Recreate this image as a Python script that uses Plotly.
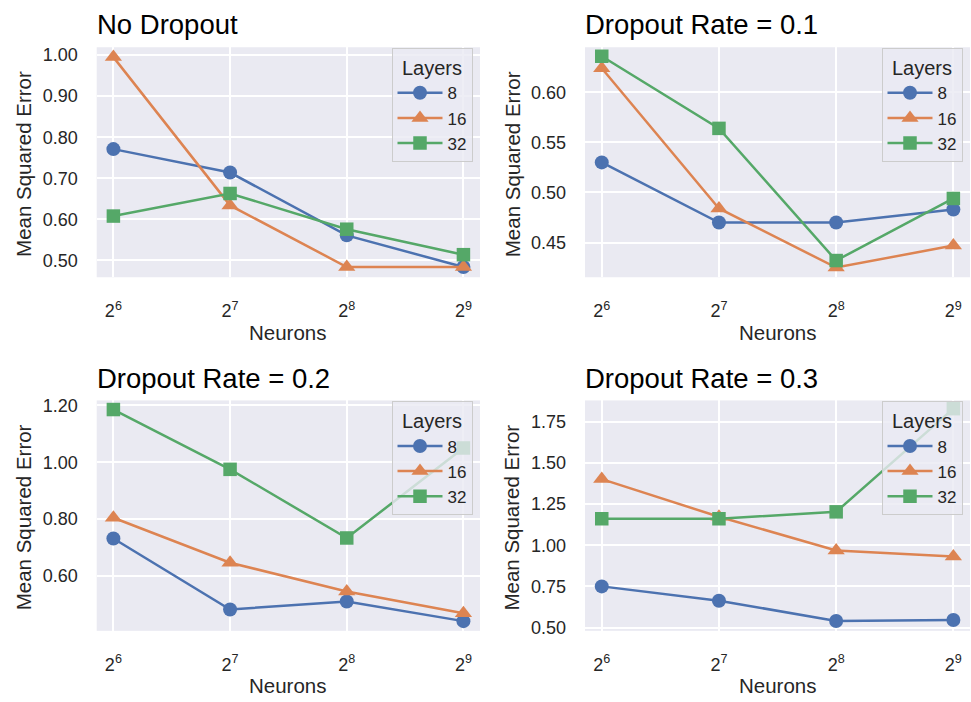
import numpy as np
import plotly.graph_objects as go

neurons = [64, 128, 256, 512]
tick_labels = ["2<sup>6</sup>", "2<sup>7</sup>", "2<sup>8</sup>", "2<sup>9</sup>"]
layers = ["8", "16", "32"]
panel_titles = ["No Dropout", "Dropout Rate = 0.1", "Dropout Rate = 0.2", "Dropout Rate = 0.3"]

no_dropout_8 = [0.771, 0.714, 0.561, 0.484]
no_dropout_16 = [0.995, 0.634, 0.484, 0.484]
no_dropout_32 = [0.608, 0.663, 0.576, 0.514]

drop01_8 = [0.530, 0.470, 0.470, 0.483]
drop01_16 = [0.624, 0.484, 0.425, 0.447]
drop01_32 = [0.636, 0.564, 0.432, 0.494]

drop02_8 = [0.732, 0.483, 0.511, 0.442]
drop02_16 = [0.805, 0.647, 0.546, 0.470]
drop02_32 = [1.185, 0.975, 0.734, 1.050]

drop03_8 = [0.750, 0.663, 0.540, 0.546]
drop03_16 = [1.402, 1.173, 0.968, 0.932]
drop03_32 = [1.161, 1.161, 1.203, 1.830]

panels = [
    [no_dropout_8, no_dropout_16, no_dropout_32],
    [drop01_8, drop01_16, drop01_32],
    [drop02_8, drop02_16, drop02_32],
    [drop03_8, drop03_16, drop03_32],
]

colors = ["#4C72B0", "#DD8452", "#55A868"]
symbols = ["circle", "triangle-up", "square"]
msizes = [14, 15, 13.5]

W, H = 971, 702
FONT = "Liberation Sans, Arial, Helvetica, sans-serif"
TXT = "#262626"

# pixel geometry of plot areas (left, right, top, bottom)
boxes = [
    (96.7, 480.0, 43.0, 277.0),
    (585.0, 970.0, 43.0, 277.0),
    (96.7, 480.0, 402.3, 636.7),
    (585.0, 970.0, 402.3, 636.7),
]
y_ranges = [(0.459, 1.019), (0.4153, 0.645), (0.408, 1.217), (0.48, 1.88)]
y_ticks = [
    [0.5, 0.6, 0.7, 0.8, 0.9, 1.0],
    [0.45, 0.50, 0.55, 0.60],
    [0.6, 0.8, 1.0, 1.2],
    [0.5, 0.75, 1.0, 1.25, 1.5, 1.75],
]
x_range = [np.log10(2) * 5.857, np.log10(2) * 9.142]

fig = go.Figure()
legend_names = ["legend", "legend2", "legend3", "legend4"]

for p, series in enumerate(panels):
    ax = "" if p == 0 else str(p + 1)
    for i, vals in enumerate(series):
        fig.add_trace(go.Scatter(
            x=neurons, y=vals, mode="lines+markers",
            name=layers[i],
            line=dict(color=colors[i], width=2.5),
            marker=dict(symbol=symbols[i], size=msizes[i], color=colors[i], line=dict(width=0)),
            xaxis="x" + ax, yaxis="y" + ax,
            legend=legend_names[p], legendgroup=f"p{p}l{i}",
            cliponaxis=False,
        ))

layout = dict(
    width=W, height=H,
    margin=dict(l=0, r=0, t=0, b=0),
    paper_bgcolor="white",
    plot_bgcolor="#EAEAF2",
    font=dict(family=FONT, color=TXT),
    showlegend=True,
)
annotations = []
for p in range(4):
    l, r, t, b = boxes[p]
    ax = "" if p == 0 else str(p + 1)
    layout["xaxis" + ax] = dict(
        type="log", range=x_range, domain=[l / W, r / W],
        anchor="y" + ax,
        tickvals=neurons, ticktext=tick_labels,
        showgrid=True, gridcolor="white", gridwidth=1.5,
        zeroline=False, showline=False, ticks="",
        tickfont=dict(size=18, color=TXT, family=FONT),
        ticklabelstandoff=21,
    )
    layout["yaxis" + ax] = dict(
        range=list(y_ranges[p]), domain=[1 - b / H, 1 - t / H],
        anchor="x" + ax,
        tickvals=y_ticks[p], tickformat=".2f",
        showgrid=True, gridcolor="white", gridwidth=1.5,
        zeroline=False, showline=False, ticks="",
        tickfont=dict(size=18, color=TXT, family=FONT),
        ticklabelstandoff=18,
    )
    # panel title
    annotations.append(dict(
        text=panel_titles[p], xref="paper", yref="paper",
        x=(l - 2) / W, y=1 - (t - 5) / H, xanchor="left", yanchor="bottom",
        showarrow=False, font=dict(size=27.5, color="black", family=FONT),
    ))
    # x axis title
    annotations.append(dict(
        text="Neurons", xref="paper", yref="paper",
        x=(l + r) / 2 / W, y=1 - (b + 56) / H, xanchor="center", yanchor="middle",
        showarrow=False, font=dict(size=20.5, color=TXT, family=FONT),
    ))
    # y axis title
    annotations.append(dict(
        text="Mean Squared Error", xref="paper", yref="paper",
        x=(l - 73) / W, y=1 - ((t + b) / 2 + 2) / H, xanchor="center", yanchor="middle",
        textangle=-90,
        showarrow=False, font=dict(size=20.5, color=TXT, family=FONT),
    ))
    lx = r - 7.5
    ly = t + 1
    layout[legend_names[p]] = dict(
        x=lx / W, y=1 - ly / H, xanchor="right", yanchor="top",
        xref="paper", yref="paper",
        bgcolor="rgba(234,234,242,0.8)", bordercolor="#CCCCCC", borderwidth=1,
        title=dict(text="Layers", side="top center", font=dict(size=20, color=TXT, family=FONT)),
        font=dict(size=17, color=TXT, family=FONT),
        traceorder="grouped", tracegroupgap=0,
        itemwidth=45,
    )
layout["annotations"] = annotations
fig.update_layout(**layout)

fig.write_html("out.html", config={"displayModeBar": False},
               post_script="document.body.style.margin='0';")
